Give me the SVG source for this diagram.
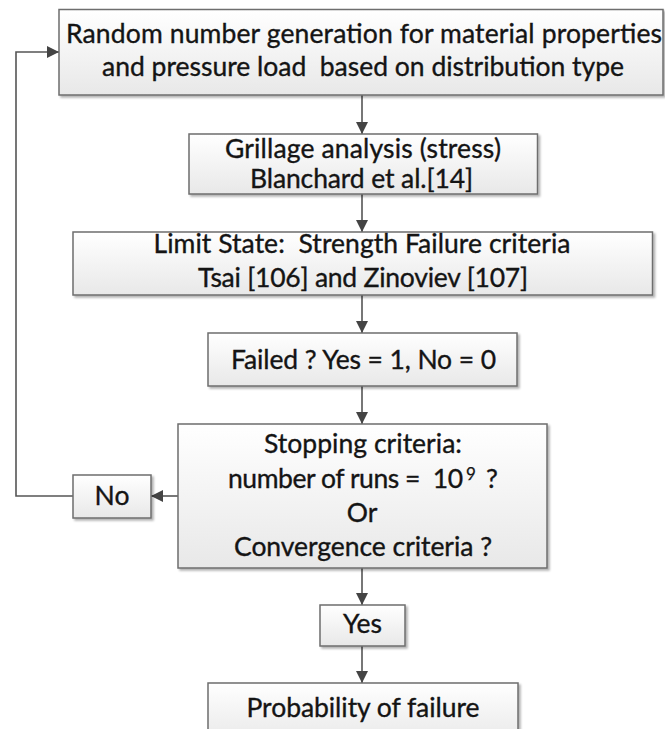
<svg xmlns="http://www.w3.org/2000/svg" width="665" height="729" viewBox="0 0 665 729">
<style>
.box{fill:url(#g);stroke:#6e6e6e;stroke-width:1.5;filter:url(#sh)}
.t{font-family:Lato,"Liberation Sans",sans-serif;font-size:26.5px;fill:#141414;stroke:#141414;stroke-width:0.35;text-anchor:middle;white-space:pre}
.c{fill:none;stroke:#555;stroke-width:1.6}
</style>
<defs>
<linearGradient id="g" x1="0" y1="0" x2="0" y2="1">
<stop offset="0" stop-color="#ffffff"/>
<stop offset="1" stop-color="#e8e8e8"/>
</linearGradient>
<filter id="sh" x="-5%" y="-5%" width="115%" height="130%">
<feDropShadow dx="2" dy="2" stdDeviation="1" flood-color="#000" flood-opacity="0.3"/>
</filter>
<marker id="ah" markerUnits="userSpaceOnUse" markerWidth="12" markerHeight="12" refX="12" refY="6" orient="auto">
<path d="M0,0 L12,6 L0,12 z" fill="#444"/>
</marker>
</defs>
<g id="connectors">
<line class="c" x1="362" y1="95" x2="362" y2="134" marker-end="url(#ah)"/>
<line class="c" x1="362" y1="194" x2="362" y2="232" marker-end="url(#ah)"/>
<line class="c" x1="362" y1="295" x2="362" y2="333" marker-end="url(#ah)"/>
<line class="c" x1="362" y1="386" x2="362" y2="424" marker-end="url(#ah)"/>
<line class="c" x1="362" y1="568" x2="362" y2="605" marker-end="url(#ah)"/>
<line class="c" x1="362" y1="646" x2="362" y2="683" marker-end="url(#ah)"/>
<line class="c" x1="178" y1="496" x2="151" y2="496" marker-end="url(#ah)"/>
<polyline class="c" points="73,496 16,496 16,52 59,52" marker-end="url(#ah)"/>
</g>
<g id="n1">
<rect class="box" x="59" y="9.5" width="604" height="85.5"/>
<text class="t" x="364" y="43" textLength="596">Random number generation for material properties</text>
<text class="t" x="363" y="76" textLength="522">and pressure load  based on distribution type</text>
</g>
<g id="n2">
<rect class="box" x="189" y="134" width="348.5" height="60"/>
<text class="t" x="363" y="158" textLength="276">Grillage analysis (stress)</text>
<text class="t" x="361.5" y="188" textLength="223">Blanchard et al.[14]</text>
</g>
<g id="n3">
<rect class="box" x="73" y="232" width="579.5" height="63"/>
<text class="t" x="362" y="253" textLength="417">Limit State:  Strength Failure criteria</text>
<text class="t" x="363" y="287" textLength="330">Tsai [106] and Zinoviev [107]</text>
</g>
<g id="n4">
<rect class="box" x="208" y="333" width="309" height="53"/>
<text class="t" x="363.5" y="369" textLength="265">Failed ? Yes = 1, No = 0</text>
</g>
<g id="n5">
<rect class="box" x="178" y="424" width="369" height="144"/>
<text class="t" x="363" y="453" textLength="198">Stopping criteria:</text>
<text class="t" x="228" y="488" textLength="235" style="text-anchor:start">number of runs =  10</text>
<text class="t" x="466" y="480" style="text-anchor:start;font-size:17px;stroke-width:0.25">9</text>
<text class="t" x="486" y="488" style="text-anchor:start">?</text>
<text class="t" x="362" y="522">Or</text>
<text class="t" x="363" y="556" textLength="258">Convergence criteria ?</text>
</g>
<g id="n6">
<rect class="box" x="73" y="475" width="78" height="43"/>
<text class="t" x="112" y="505">No</text>
</g>
<g id="n7">
<rect class="box" x="320" y="605" width="85" height="41"/>
<text class="t" x="362.5" y="633">Yes</text>
</g>
<g id="n8">
<rect class="box" x="208" y="683" width="310" height="60"/>
<text class="t" x="363" y="717" textLength="233">Probability of failure</text>
</g>
</svg>
